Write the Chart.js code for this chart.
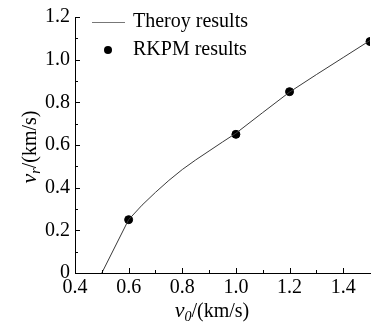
<!DOCTYPE html>
<html>
<head>
<meta charset="utf-8">
<script src="https://cdn.jsdelivr.net/npm/chart.js"></script>
<style>
  html, body { margin: 0; padding: 0; background: #fff; }
  #wrap { width: 381px; height: 324px; }
</style>
</head>
<body>
<div id="wrap"><canvas id="chart" width="381" height="324"></canvas></div>
<script>
// --- data ---
const theoryV0 = [0.5, 0.6, 0.65, 0.7, 0.75, 0.8, 0.85, 0.9, 0.95, 1.0, 1.1, 1.2, 1.3, 1.4, 1.5];
const theoryVr = [0, 0.25, 0.318, 0.378, 0.434, 0.485, 0.53, 0.572, 0.614, 0.655, 0.752, 0.848, 0.93, 1.01, 1.09];
const rkpmV0 = [0.6, 1.0, 1.2, 1.5];
const rkpmVr = [0.25, 0.65, 0.85, 1.085];
const xTicks = [0.4, 0.6, 0.8, 1.0, 1.2, 1.4];
const yTicks = [0, 0.2, 0.4, 0.6, 0.8, 1.0, 1.2];
const legendLabels = ["Theroy results", "RKPM results"];

const FONT = "Liberation Serif";

// inward major + minor ticks, axis titles with subscripts, legend
const decorPlugin = {
  id: "decor",
  afterDraw(chart) {
    const ctx = chart.ctx;
    const xs = chart.scales.x, ys = chart.scales.y;
    const area = chart.chartArea;
    ctx.save();
    ctx.strokeStyle = "#000";
    ctx.lineWidth = 1;
    ctx.beginPath();
    for (let i = 0; i <= 10; i++) {
      const v = 0.4 + i * 0.1;
      const px = Math.round(xs.getPixelForValue(v)) + 0.5;
      const len = i % 2 === 0 ? 5 : 3;
      ctx.moveTo(px, area.bottom);
      ctx.lineTo(px, area.bottom - len);
    }
    for (let i = 0; i <= 12; i++) {
      const v = i * 0.1;
      const py = Math.round(ys.getPixelForValue(v)) + 0.5;
      const len = i % 2 === 0 ? 5 : 3;
      ctx.moveTo(area.left, py);
      ctx.lineTo(area.left + len, py);
    }
    ctx.stroke();

    // axis titles
    ctx.fillStyle = "#000";
    ctx.textBaseline = "alphabetic";
    drawTitle(ctx, "0", 212, 317, false);
    ctx.save();
    ctx.translate(29, 147);
    ctx.rotate(-Math.PI / 2);
    drawTitle(ctx, "r", 0, 0, true);
    ctx.restore();

    // legend
    const lineDs = chart.data.datasets[0];
    const dotDs = chart.data.datasets[1];
    ctx.strokeStyle = "#777";
    ctx.lineWidth = 1;
    ctx.beginPath();
    ctx.moveTo(92, 22.5);
    ctx.lineTo(125, 22.5);
    ctx.stroke();
    ctx.fillStyle = dotDs.backgroundColor;
    ctx.beginPath();
    ctx.arc(108, 50, dotDs.pointRadius, 0, Math.PI * 2);
    ctx.fill();
    ctx.fillStyle = "#000";
    ctx.font = "20px '" + FONT + "', serif";
    ctx.textAlign = "left";
    ctx.textBaseline = "middle";
    ctx.fillText(legendLabels[0], 133, 22);
    ctx.fillText(legendLabels[1], 133, 50);
    ctx.restore();
  }
};

// draws "v_sub/(km/s)" centred at (cx, baseline y)
function drawTitle(ctx, sub, cx, y, centred) {
  const fam = "'" + FONT + "', serif";
  const parts = [
    { t: "v", f: "italic 22px " + fam, dy: 0 },
    { t: sub, f: "italic 14px " + fam, dy: 4 },
    { t: "/(km/s)", f: "20px " + fam, dy: 0 }
  ];
  let w = 0;
  parts.forEach(p => { ctx.font = p.f; p.w = ctx.measureText(p.t).width; w += p.w; });
  let x = cx - w / 2;
  ctx.textAlign = "left";
  const by = centred ? y + 7 : y;
  parts.forEach(p => {
    ctx.font = p.f;
    ctx.fillText(p.t, x, by + p.dy);
    x += p.w;
  });
}

new Chart(document.getElementById("chart"), {
  type: "scatter",
  data: {
    datasets: [
      {
        label: legendLabels[0],
        type: "line",
        data: theoryV0.map((x, i) => ({ x, y: theoryVr[i] })),
        borderColor: "#3a3a3a",
        borderWidth: 1,
        pointRadius: 0,
        fill: false,
        tension: 0
      },
      {
        label: legendLabels[1],
        data: rkpmV0.map((x, i) => ({ x, y: rkpmVr[i] })),
        backgroundColor: "#000",
        borderColor: "#000",
        pointRadius: 4,
        pointHoverRadius: 4
      }
    ]
  },
  options: {
    responsive: false,
    animation: false,
    devicePixelRatio: 1,
    layout: { padding: { left: 0, right: 11, top: 13, bottom: 0 } },
    plugins: { legend: { display: false }, tooltip: { enabled: false } },
    scales: {
      x: {
        type: "linear",
        min: 0.4,
        max: 1.5,
        afterBuildTicks: s => { s.ticks = xTicks.map(v => ({ value: v })); },
        afterFit: s => { s.height = 51; },
        grid: { display: false, drawTicks: false },
        border: { display: true, color: "#000", width: 1 },
        ticks: {
          color: "#000",
          padding: 3,
          font: { family: FONT, size: 20 },
          callback: v => v.toFixed(1)
        }
      },
      y: {
        min: 0,
        max: 1.2,
        afterBuildTicks: s => { s.ticks = yTicks.map(v => ({ value: v })); },
        afterFit: s => { s.width = 75; },
        grid: { display: false, drawTicks: false },
        border: { display: true, color: "#000", width: 1 },
        ticks: {
          color: "#000",
          padding: 5,
          font: { family: FONT, size: 20 },
          callback: v => (v === 0 ? "0" : v.toFixed(1))
        }
      }
    }
  },
  plugins: [decorPlugin]
});
</script>
</body>
</html>
